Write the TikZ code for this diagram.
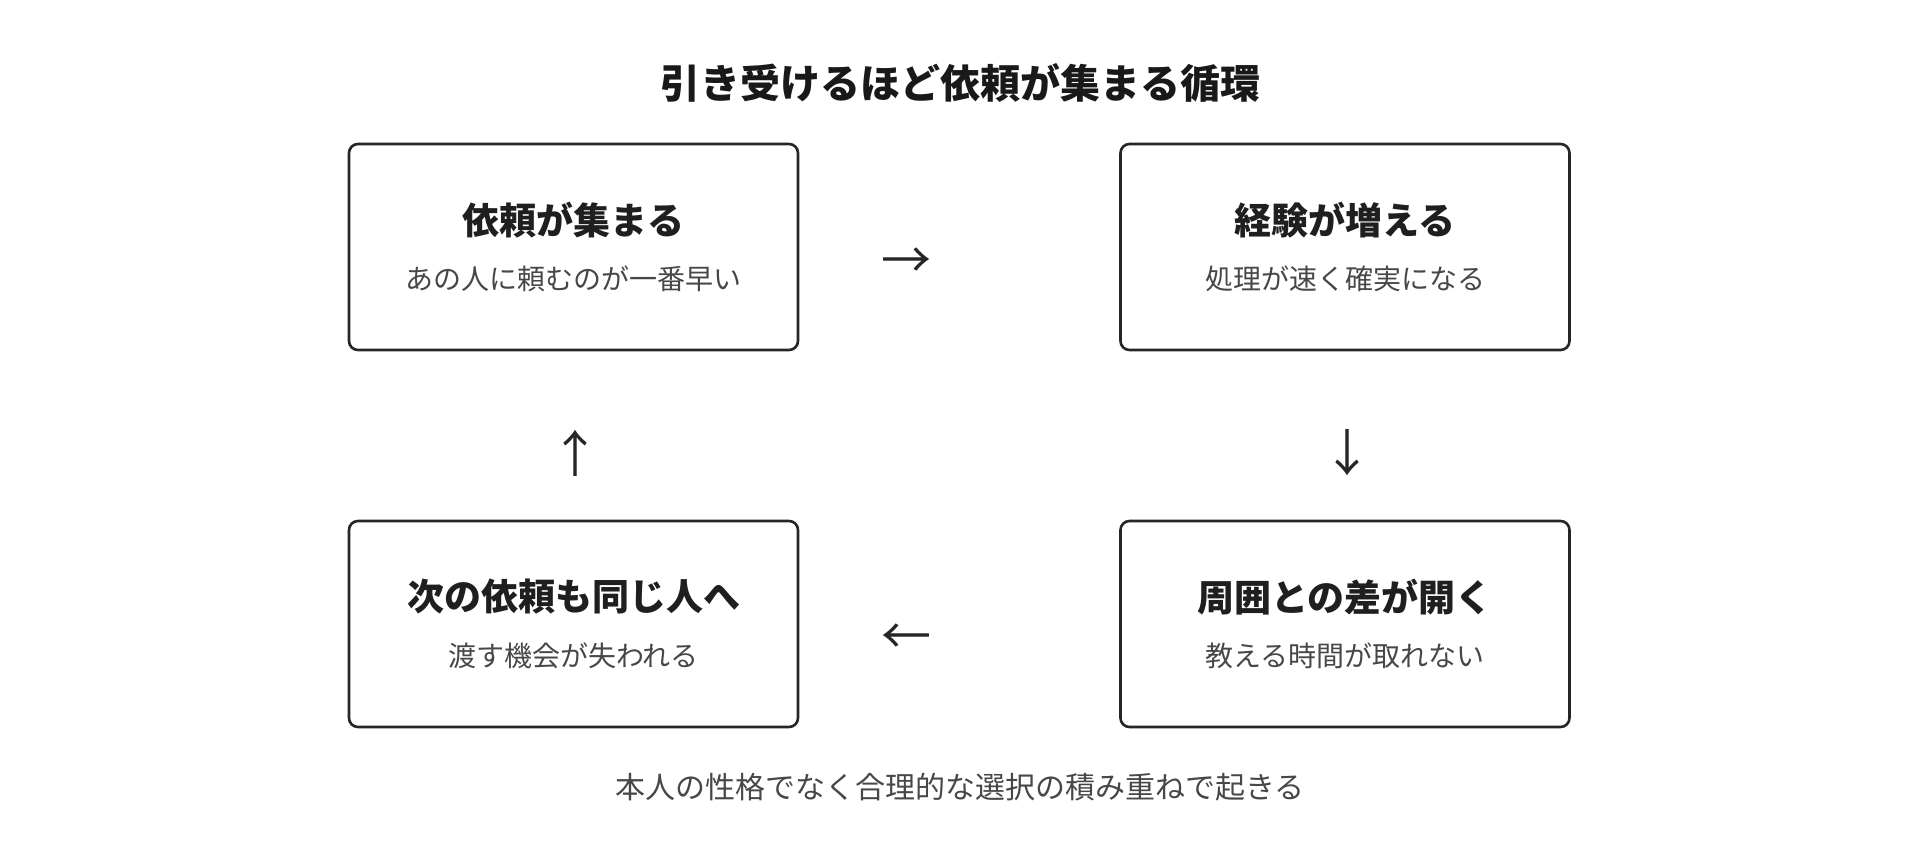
\documentclass[tikz,border=0pt]{standalone}
\usepackage{fontspec}
\setmainfont{Noto Sans CJK JP}
\newfontfamily\jpb{Noto Sans CJK JP}[BoldFont={* Bold}]
\begin{document}
\begin{tikzpicture}[x=1pt,y=-1pt,
  box/.style={draw=black!85,line width=2.6pt,rounded corners=9pt,minimum width=449pt,minimum height=206pt},
  ttl/.style={font=\fontsize{37}{40}\selectfont\bfseries,text=black!88},
  sub/.style={font=\fontsize{28}{32}\selectfont,text=black!72},
  arr/.style={font=\fontsize{50}{50}\selectfont,text=black!85}]
\useasboundingbox (0,0) rectangle (1920,847);
\node[font=\fontsize{40}{44}\selectfont\bfseries,text=black!90] (t) at (960,83) {引き受けるほど依頼が集まる循環};
\node[box] (b1) at (573.5,247) {};
\node[box] (b2) at (1345,247) {};
\node[box] (b3) at (1345,624) {};
\node[box] (b4) at (573.5,624) {};
\node[ttl] (t1) at (573.5,220) {依頼が集まる};
\node[sub] (s1) at (573.5,279) {あの人に頼むのが一番早い};
\node[ttl] (t2) at (1345,220) {経験が増える};
\node[sub] (s2) at (1345,279) {処理が速く確実になる};
\node[ttl] (t3) at (1345,597) {周囲との差が開く};
\node[sub] (s3) at (1345,656) {教える時間が取れない};
\node[ttl] (t4) at (573.5,597) {次の依頼も同じ人へ};
\node[sub] (s4) at (573.5,656) {渡す機会が失われる};
\node[arr] (a1) at (906,263) {→};
\node[arr] (a2) at (1347,453) {↓};
\node[arr] (a3) at (906,639) {←};
\node[arr] (a4) at (575,453) {↑};
\node[font=\fontsize{30}{34}\selectfont,text=black!72] (f) at (960,787) {本人の性格でなく合理的な選択の積み重ねで起きる};
\end{tikzpicture}
\end{document}
